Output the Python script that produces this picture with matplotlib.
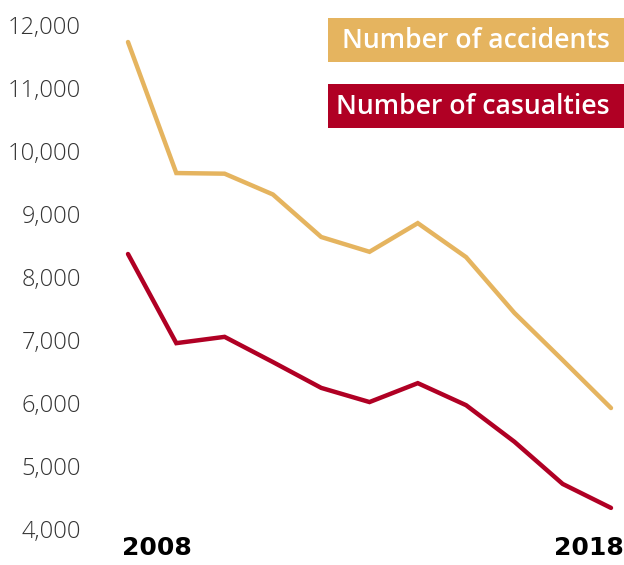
import matplotlib
matplotlib.use("Agg")
import matplotlib.pyplot as plt
from matplotlib.patches import Rectangle

years = [2008, 2009, 2010, 2011, 2012, 2013, 2014, 2015, 2016, 2017, 2018]
accidents = [11730, 9650, 9640, 9310, 8635, 8400, 8855, 8315, 7430, 6680, 5920]
casualties = [8365, 6950, 7050, 6650, 6240, 6015, 6315, 5965, 5385, 4715, 4335]
yticks = [4000, 5000, 6000, 7000, 8000, 9000, 10000, 11000, 12000]
year_labels = ["2008", "2018"]
legend_labels = ["Number of accidents", "Number of casualties"]

c_acc = "#E5B45F"
c_cas = "#B00024"

W, H = 624, 565
fig = plt.figure(figsize=(W / 100, H / 100), dpi=100)
fig.patch.set_facecolor("white")

left, right, top, bottom = 128, 611, 25, 529
ax = fig.add_axes([left / W, (H - bottom) / H, (right - left) / W, (bottom - top) / H])
ax.set_xlim(years[0], years[-1])
ax.set_ylim(yticks[0], yticks[-1])

ax.plot(years, accidents, color=c_acc, lw=3.2, solid_joinstyle="miter", solid_capstyle="round", clip_on=False)
ax.plot(years, casualties, color=c_cas, lw=3.2, solid_joinstyle="miter", solid_capstyle="round", clip_on=False)

for s in ax.spines.values():
    s.set_visible(False)
ax.set_yticks(yticks)
ax.set_yticklabels([f"{v:,}" for v in yticks], fontfamily="Open Sans", fontweight="light",
                   fontsize=17, color="#333333")
ax.tick_params(axis="y", length=0, pad=34)
ax.set_xticks([])

# year labels
ax.annotate(year_labels[0], xy=(years[0], yticks[0]), xycoords="data",
            xytext=(-4.5, -14), textcoords="offset points", ha="left", va="center",
            fontfamily="DejaVu Sans", fontweight="bold", fontsize=18, color="black",
            annotation_clip=False)
ax.annotate(year_labels[1], xy=(years[-1], yticks[0]), xycoords="data",
            xytext=(9, -14), textcoords="offset points", ha="right", va="center",
            fontfamily="DejaVu Sans", fontweight="bold", fontsize=18, color="black",
            annotation_clip=False)

# legend boxes
boxes = [(18, 62, c_acc), (84, 128, c_cas)]
for (y0, y1, col), lab in zip(boxes, legend_labels):
    fig.patches.append(Rectangle((328 / W, (H - y1) / H), (W - 328) / W, (y1 - y0) / H,
                                 transform=fig.transFigure, facecolor=col, edgecolor="none"))
    fig.text(610 / W, (H - (y0 + y1) / 2 - 1) / H, lab, ha="right", va="center",
             fontfamily="Open Sans", fontweight="semibold", fontsize=19.2, color="white")

fig.savefig("out.png", dpi=100)
